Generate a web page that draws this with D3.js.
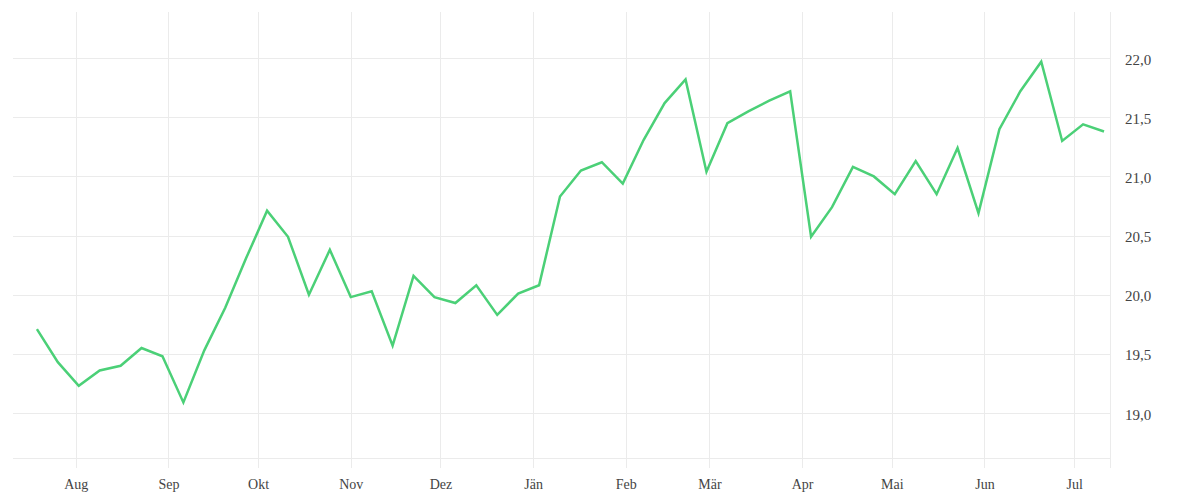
<!DOCTYPE html>
<meta charset="utf-8">
<html>
<head>
  <style>
    body { margin: 0; background: #fff; }
    .grid line { stroke: #ebebeb; stroke-width: 1; shape-rendering: crispEdges; }
    .axis text { font-family: "Liberation Serif", serif; fill: #444; }
    .axis path, .axis line { display: none; }
  </style>
  <script src="https://d3js.org/d3.v7.min.js"></script>
</head>
<body>
<svg width="1200" height="500"></svg>
<script>
  // weekly dates (Jul 2021 - Jul 2022)
  var dates = ["2021-07-19","2021-07-26","2021-08-02","2021-08-09","2021-08-16","2021-08-23","2021-08-30",
    "2021-09-06","2021-09-13","2021-09-20","2021-09-27","2021-10-04","2021-10-11","2021-10-18","2021-10-25",
    "2021-11-01","2021-11-08","2021-11-15","2021-11-22","2021-11-29","2021-12-06","2021-12-13","2021-12-20",
    "2021-12-27","2022-01-03","2022-01-10","2022-01-17","2022-01-24","2022-01-31","2022-02-07","2022-02-14",
    "2022-02-21","2022-02-28","2022-03-07","2022-03-14","2022-03-21","2022-03-28","2022-04-04","2022-04-11",
    "2022-04-18","2022-04-25","2022-05-02","2022-05-09","2022-05-16","2022-05-23","2022-05-30","2022-06-06",
    "2022-06-13","2022-06-20","2022-06-27","2022-07-04","2022-07-11"];

  var values = [19.71,19.43,19.23,19.36,19.40,19.55,19.48,19.09,19.53,19.89,20.31,20.71,20.49,20.00,20.38,
    19.98,20.03,19.57,20.16,19.98,19.93,20.08,19.83,20.01,20.08,20.83,21.05,21.12,20.94,21.31,21.62,21.82,
    21.04,21.45,21.55,21.64,21.72,20.49,20.74,21.08,21.00,20.85,21.13,20.85,21.24,20.69,21.40,21.72,21.97,
    21.30,21.44,21.38];

  var monthNames = ["Jän","Feb","Mär","Apr","Mai","Jun","Jul","Aug","Sep","Okt","Nov","Dez"];
  var yTicks = [19.0, 19.5, 20.0, 20.5, 21.0, 21.5, 22.0];

  var parse = d3.timeParse("%Y-%m-%d");
  var data = dates.map(function(d, i) { return { date: parse(d), value: values[i] }; });

  var svg = d3.select("svg");
  var pLeft = 13, pRight = 1110, pTop = 12, pBottom = 458;

  var x = d3.scaleTime()
      .domain([d3.timeDay.offset(data[0].date, -8), d3.timeDay.offset(data[data.length - 1].date, 2)])
      .range([pLeft, pRight]);
  var y = d3.scaleLinear().domain([18.62, 22.39]).range([pBottom, pTop]);

  var de = d3.formatLocale({ decimal: ",", thousands: ".", grouping: [3], currency: ["", "€"] });
  var fmt = de.format(".1f");

  var months = x.ticks(d3.timeMonth.every(1));

  // grid
  var grid = svg.append("g").attr("class", "grid");
  grid.selectAll(".h").data(yTicks).enter().append("line")
      .attr("x1", pLeft).attr("x2", pRight)
      .attr("y1", function(d) { return Math.round(y(d)) + 0.5; })
      .attr("y2", function(d) { return Math.round(y(d)) + 0.5; });
  grid.append("line").attr("x1", pLeft).attr("x2", pRight).attr("y1", pBottom + 0.5).attr("y2", pBottom + 0.5);
  grid.selectAll(".v").data(months).enter().append("line")
      .attr("x1", function(d) { return Math.round(x(d)) + 0.5; })
      .attr("x2", function(d) { return Math.round(x(d)) + 0.5; })
      .attr("y1", pTop).attr("y2", pBottom + 10);
  grid.append("line").attr("x1", pRight + 0.5).attr("x2", pRight + 0.5).attr("y1", pTop).attr("y2", pBottom + 10);

  // axes
  svg.append("g").attr("class", "axis")
     .attr("transform", "translate(0," + (pBottom + 10) + ")")
     .call(d3.axisBottom(x).tickValues(months).tickSize(0).tickPadding(11)
       .tickFormat(function(d) { return monthNames[d.getMonth()]; }))
     .selectAll("text").attr("font-size", "14px");

  svg.append("g").attr("class", "axis")
     .attr("transform", "translate(" + (pRight + 15) + ",0)")
     .call(d3.axisRight(y).tickValues(yTicks).tickSize(0).tickPadding(0).tickFormat(fmt))
     .selectAll("text").attr("font-size", "15px").attr("dy", "0.4em");

  // line
  var line = d3.line()
      .x(function(d) { return x(d.date); })
      .y(function(d) { return y(d.value); });

  svg.append("path")
     .datum(data)
     .attr("fill", "none")
     .attr("stroke", "#4bd077")
     .attr("stroke-width", 2.5)
     .attr("stroke-linejoin", "miter")
     .attr("d", line);
</script>
</body>
</html>
